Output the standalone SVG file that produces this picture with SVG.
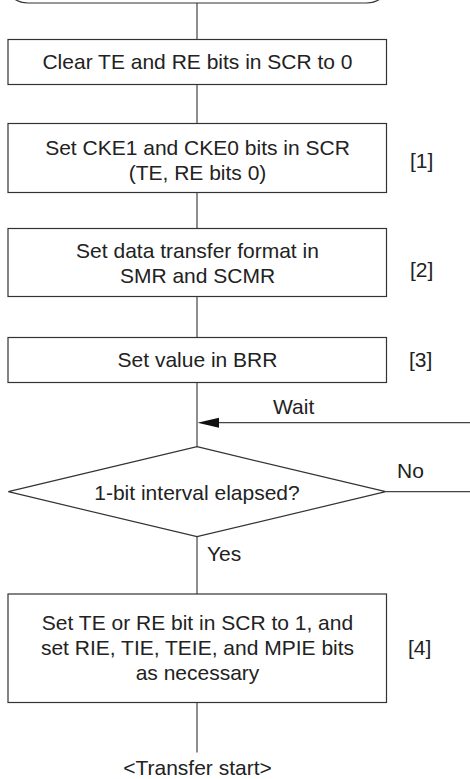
<svg xmlns="http://www.w3.org/2000/svg" width="470" height="779" viewBox="0 0 470 779">
<style>
.box{fill:#fff;stroke:#333;stroke-width:1.2}
.ln{fill:none;stroke:#444;stroke-width:1.2}
text{font-family:"Liberation Sans",Arial,sans-serif;font-size:21px;fill:#222}
.c{text-anchor:middle}
</style>
<rect width="470" height="779" fill="#fff"/>
<g id="connectors">
<line class="ln" x1="197" y1="3" x2="197" y2="39.5"/>
<line class="ln" x1="197" y1="84.5" x2="197" y2="123.5"/>
<line class="ln" x1="197" y1="192.5" x2="197" y2="228.5"/>
<line class="ln" x1="197" y1="296.5" x2="197" y2="337.5"/>
<line class="ln" x1="197" y1="382.5" x2="197" y2="446.7"/>
<line class="ln" x1="197" y1="536.7" x2="197" y2="594"/>
<line class="ln" x1="197" y1="702.5" x2="197" y2="752.5"/>
<line class="ln" x1="218" y1="422.7" x2="470" y2="422.7"/>
<polygon points="197.5,422.7 219,417.7 219,427.7" fill="#111"/>
<line class="ln" x1="385.7" y1="491.7" x2="470" y2="491.7"/>
<text x="273" y="414">Wait</text>
<text x="397" y="478">No</text>
<text x="207" y="560.5">Yes</text>
</g>
<g id="start">
<rect class="box" x="8" y="-27" width="378.5" height="30" rx="20"/>
</g>
<g id="n1">
<rect class="box" x="8" y="39.5" width="378.5" height="45"/>
<text class="c" x="197.5" y="69">Clear TE and RE bits in SCR to 0</text>
</g>
<g id="n2">
<rect class="box" x="8" y="123.5" width="378.5" height="69"/>
<text class="c" x="197.5" y="154.5">Set CKE1 and CKE0 bits in SCR</text>
<text class="c" x="197.5" y="180">(TE, RE bits 0)</text>
<text x="410" y="168">[1]</text>
</g>
<g id="n3">
<rect class="box" x="8" y="228.5" width="378.5" height="68"/>
<text class="c" x="197.5" y="257.5">Set data transfer format in</text>
<text class="c" x="197.5" y="283.3">SMR and SCMR</text>
<text x="410" y="277">[2]</text>
</g>
<g id="n4">
<rect class="box" x="8" y="337.5" width="378.5" height="45"/>
<text class="c" x="197.5" y="366.7">Set value in BRR</text>
<text x="409" y="366.7">[3]</text>
</g>
<g id="d1">
<polygon class="box" points="197,446.7 385.7,491.7 197,536.7 8.3,491.7"/>
<text class="c" x="197" y="499.5">1-bit interval elapsed?</text>
</g>
<g id="n5">
<rect class="box" x="8" y="594" width="378.5" height="108.5"/>
<text class="c" x="197.5" y="630">Set TE or RE bit in SCR to 1, and</text>
<text class="c" x="197.5" y="654.5">set RIE, TIE, TEIE, and MPIE bits</text>
<text class="c" x="197.5" y="680">as necessary</text>
<text x="408" y="655">[4]</text>
</g>
<g id="end">
<text class="c" x="197.5" y="775">&lt;Transfer start&gt;</text>
</g>
</svg>
